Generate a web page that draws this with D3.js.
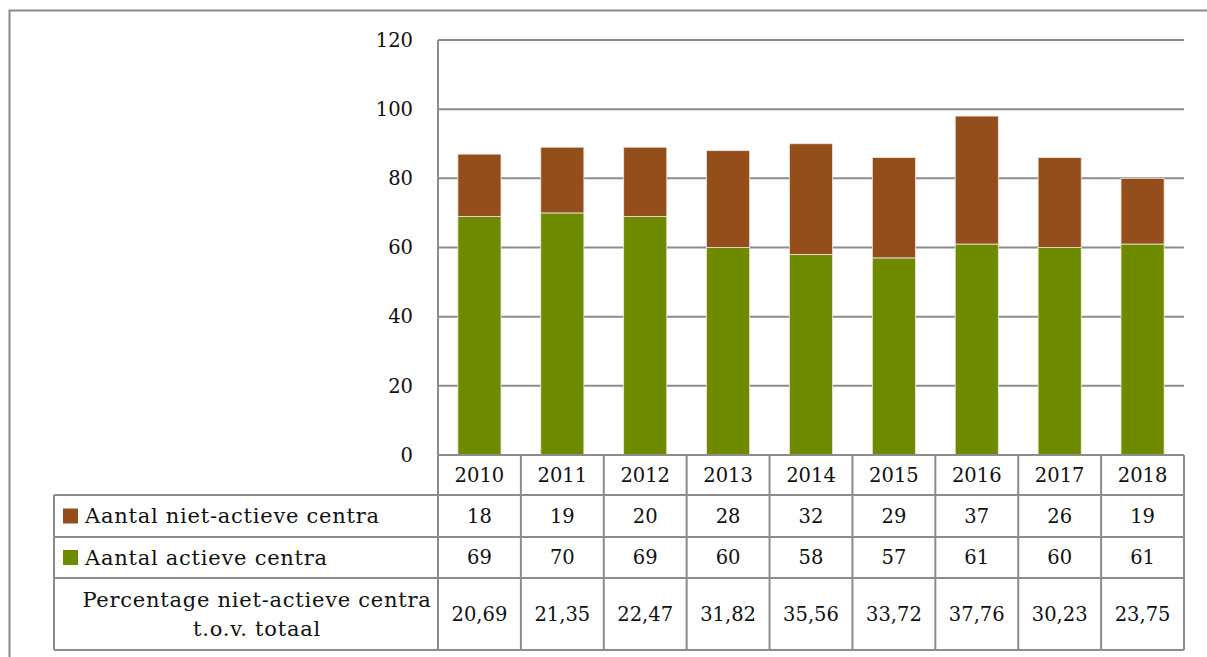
<!DOCTYPE html>
<html><head><meta charset="utf-8">
<script src="https://cdn.jsdelivr.net/npm/d3@7"></script>
<style>body{margin:0;background:#fff}svg{display:block}</style>
</head><body>
<script>
const years = ["2010","2011","2012","2013","2014","2015","2016","2017","2018"];
const nietActief = [18,19,20,28,32,29,37,26,19];
const actief = [69,70,69,60,58,57,61,60,61];
const percentage = ["20,69","21,35","22,47","31,82","35,56","33,72","37,76","30,23","23,75"];
const yTicks = [0,20,40,60,80,100,120];
const seriesNames = ["Aantal niet-actieve centra","Aantal actieve centra"];
const pctLabel = ["Percentage niet-actieve centra","t.o.v. totaal"];

const W=1207,H=657;
const FONT="'DejaVu Serif', serif";
const cBrown="#934E1C", cGreen="#6E8B00", cGrid="#8c8c8c";
const svg=d3.select("body").append("svg").attr("width",W).attr("height",H);

// outer frame
svg.append("path").attr("d",`M9.5,${H} V10.5 H${W}`).attr("fill","none").attr("stroke","#8a8a8a").attr("stroke-width",2);

const x0=438,x1=1184,yTop=40,yBot=455;
const x=d3.scaleBand().domain(years).range([x0,x1]).paddingInner(0.48).paddingOuter(0.24);
const xb=d3.scaleBand().domain(years).range([x0,x1]);
const y=d3.scaleLinear().domain([0,120]).range([yBot,yTop]);

// gridlines
svg.append("g").selectAll("line").data(yTicks.filter(d=>d>0)).join("line")
  .attr("x1",x0).attr("x2",x1).attr("y1",d=>y(d)).attr("y2",d=>y(d))
  .attr("stroke",cGrid).attr("stroke-width",2);
// vertical axis
svg.append("line").attr("x1",x0).attr("x2",x0).attr("y1",yTop).attr("y2",650).attr("stroke",cGrid).attr("stroke-width",2);

// tick labels
svg.append("g").selectAll("text").data(yTicks).join("text")
  .attr("x",413).attr("y",d=>y(d)).attr("dy","0.35em").attr("text-anchor","end")
  .attr("font-family",FONT).attr("font-size",19.5).attr("fill","#111").text(d=>d);

// bars
const stackData=years.map((yr,i)=>({year:yr,actief:actief[i],niet:nietActief[i]}));
const stack=d3.stack().keys(["actief","niet"])(stackData);
const colors={actief:cGreen,niet:cBrown};
svg.append("g").selectAll("g").data(stack).join("g").attr("fill",d=>colors[d.key])
  .selectAll("rect").data(d=>d).join("rect")
  .attr("x",d=>x(d.data.year)).attr("width",x.bandwidth())
  .attr("y",d=>y(d[1])).attr("height",d=>y(d[0])-y(d[1]))
  .attr("stroke","#f3e6dc").attr("stroke-width",0.8);

// table
const rowsY=[455,495,537,578,650];
const tLeft=54;
const g=svg.append("g");
g.append("line").attr("x1",x0).attr("x2",x1).attr("y1",rowsY[0]).attr("y2",rowsY[0]).attr("stroke",cGrid).attr("stroke-width",2);
rowsY.slice(1).forEach(yy=>g.append("line").attr("x1",tLeft).attr("x2",x1).attr("y1",yy).attr("y2",yy).attr("stroke",cGrid).attr("stroke-width",2));
years.forEach(yr=>{const xx=xb(yr)+xb.bandwidth();
  g.append("line").attr("x1",xx).attr("x2",xx).attr("y1",rowsY[0]).attr("y2",rowsY[4]).attr("stroke",cGrid).attr("stroke-width",2);});
g.append("line").attr("x1",tLeft).attr("x2",tLeft).attr("y1",rowsY[1]).attr("y2",rowsY[4]).attr("stroke",cGrid).attr("stroke-width",2);

const cellText=(vals,yc)=>g.append("g").selectAll("text").data(vals).join("text")
  .attr("x",(d,i)=>xb(years[i])+xb.bandwidth()/2).attr("y",yc).attr("dy","0.35em")
  .attr("text-anchor","middle").attr("font-family",FONT).attr("font-size",19.5).attr("fill","#111").text(d=>d);
cellText(years,(rowsY[0]+rowsY[1])/2);
cellText(nietActief,(rowsY[1]+rowsY[2])/2);
cellText(actief,(rowsY[2]+rowsY[3])/2);
cellText(percentage,(rowsY[3]+rowsY[4])/2);

// legend labels
const LBL=21, LS=0.75;
[[seriesNames[0],cBrown,1],[seriesNames[1],cGreen,2]].forEach(([t,c,r])=>{
  const yc=(rowsY[r]+rowsY[r+1])/2;
  g.append("rect").attr("x",63).attr("y",yc-7.5).attr("width",15).attr("height",15).attr("fill",c);
  g.append("text").attr("x",85).attr("y",yc).attr("dy","0.35em").attr("font-family",FONT).attr("font-size",LBL)
    .attr("letter-spacing",LS).attr("fill","#111").text(t);
});
pctLabel.forEach((t,i)=>g.append("text").attr("x",257).attr("y",600+i*29).attr("dy","0.35em")
  .attr("text-anchor","middle").attr("font-family",FONT).attr("font-size",LBL).attr("letter-spacing",LS)
  .attr("fill","#111").text(t));
</script>
</body></html>
